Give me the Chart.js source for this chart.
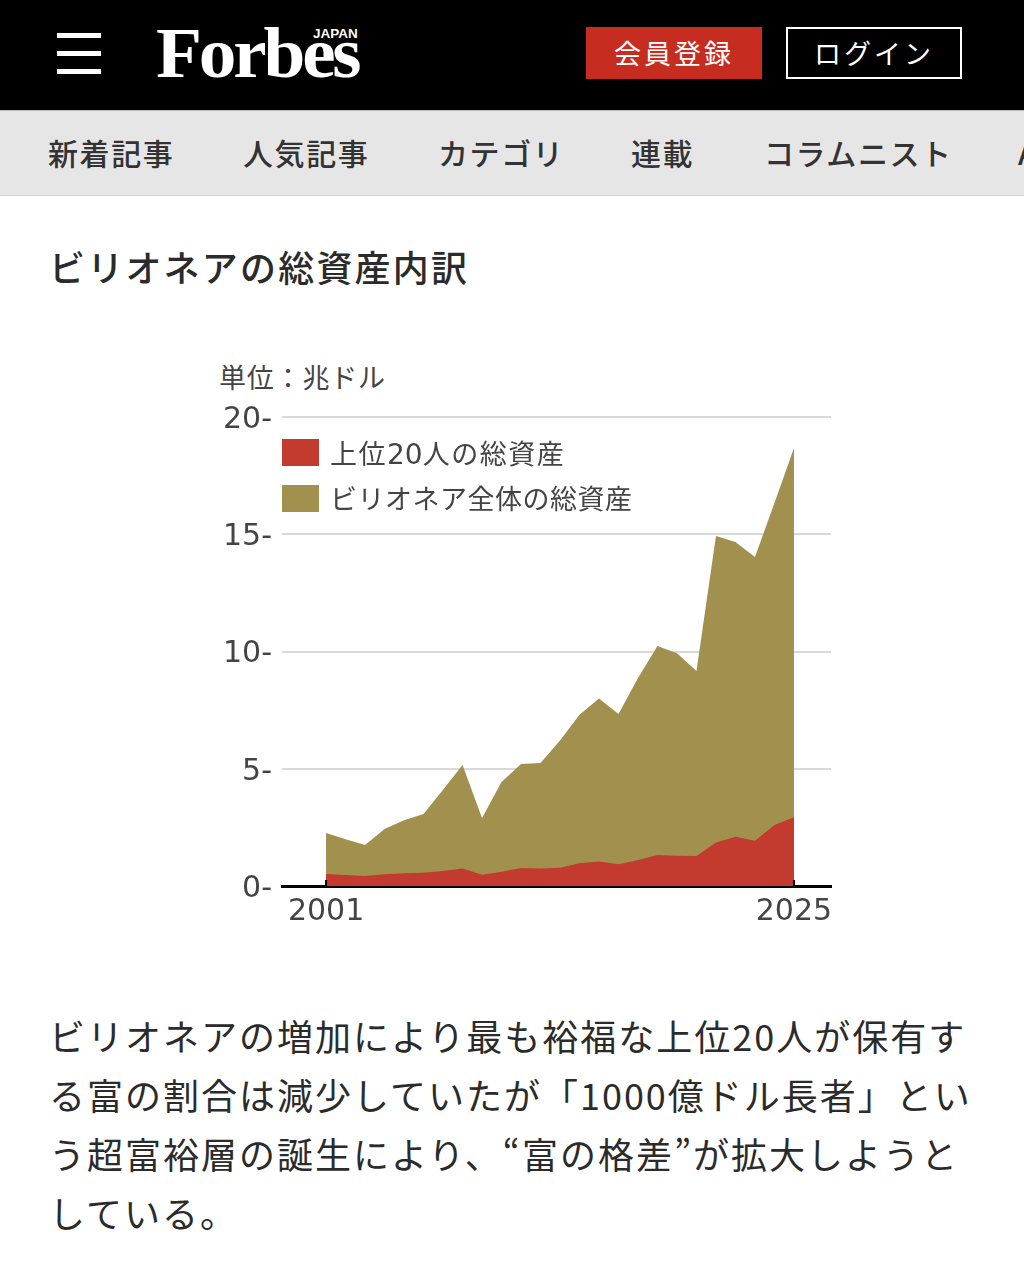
<!DOCTYPE html>
<html lang="ja">
<head>
<meta charset="utf-8">
<title>ビリオネアの総資産内訳</title>
<script src="https://cdn.jsdelivr.net/npm/chart.js@4/dist/chart.umd.min.js"></script>
<style>
  html, body { margin: 0; padding: 0; background: #fff; }
  body { width: 1024px; height: 1270px; overflow: hidden; position: relative; font-family: "Noto Sans CJK JP", sans-serif; color: #2b2b2b; }
  .abs { position: absolute; white-space: nowrap; }
  #topbar { position: absolute; left: 0; top: 0; width: 1024px; height: 110px; background: #000; }
  .bar { position: absolute; left: 57px; width: 44px; height: 5px; background: #fff; }
  #logo { left: 156px; top: 13px; color: #fff; font: bold 71px "Liberation Serif", serif; letter-spacing: -3px; transform: scaleX(1.06); transform-origin: left top; }
  #japan { left: 313px; top: 26px; color: #fff; font: bold 13.5px "Liberation Sans", sans-serif; }
  .btn { position: absolute; top: 27px; height: 52px; line-height: 52px; text-align: center; color: #fff; font-size: 27px; letter-spacing: 3px; box-sizing: border-box; }
  #signup { left: 586px; width: 176px; background: #c62d20; }
  #login { left: 786px; width: 176px; border: 2px solid #fff; line-height: 48px; }
  #nav { position: absolute; left: 0; top: 110px; width: 1024px; height: 86px; background: #e6e6e6; border-top: 1px solid #bbb; border-bottom: 1px solid #d6d6d6; box-sizing: border-box; overflow: hidden; }
  #nav span { position: absolute; top: 19px; font-size: 30px; line-height: 44px; font-weight: 500; letter-spacing: 1.6px; white-space: nowrap; color: #333; }
  #title { left: 49px; top: 239px; font-size: 36px; line-height: 54px; font-weight: 500; letter-spacing: 2.2px; }
  #unit { left: 219px; top: 358px; font-size: 27px; line-height: 38px; letter-spacing: .8px; color: #444; }
  #chartBox { position: absolute; left: 200px; top: 389px; width: 660px; height: 551px; }
  .swatch { position: absolute; left: 282px; width: 37px; height: 27px; }
  .legendText { left: 330px; font-size: 27px; line-height: 38px; letter-spacing: .5px; color: #444; }
  .legendText b { font: 28px "DejaVu Sans", sans-serif; letter-spacing: 0; }
  .line { left: 49px; font-size: 36px; line-height: 59px; letter-spacing: 2px; color: #2b2b2b; }
</style>
</head>
<body>
<div id="topbar">
  <div class="bar" style="top:33px"></div>
  <div class="bar" style="top:51px"></div>
  <div class="bar" style="top:69px"></div>
  <div class="abs" id="logo">Forbes</div>
  <div class="abs" id="japan">JAPAN</div>
  <div class="btn" id="signup">会員登録</div>
  <div class="btn" id="login">ログイン</div>
</div>
<div id="nav">
  <span style="left:48px">新着記事</span>
  <span style="left:243px">人気記事</span>
  <span style="left:438px">カテゴリ</span>
  <span style="left:631px">連載</span>
  <span style="left:764px">コラムニスト</span>
  <span style="left:1018px">A</span>
</div>
<div class="abs" id="title">ビリオネアの総資産内訳</div>
<div class="abs" id="unit">単位：兆ドル</div>
<div id="chartBox"><canvas id="wealthChart" width="660" height="551"></canvas></div>
<div class="swatch" style="top:439px;background:#c33a2e"></div>
<div class="abs legendText" style="top:434px;letter-spacing:1.5px">上位<b>20</b>人の総資産</div>
<div class="swatch" style="top:485px;background:#a2904f"></div>
<div class="abs legendText" style="top:479px">ビリオネア全体の総資産</div>
<div class="abs line" style="top:1006px">ビリオネアの増加により最も裕福な上位20人が保有す</div>
<div class="abs line" style="top:1065px">る富の割合は減少していたが「1000億ドル長者」とい</div>
<div class="abs line" style="top:1124px">う超富裕層の誕生により、“富の格差”が拡大しようと</div>
<div class="abs line" style="top:1183px">している。</div>

<script>
const years = [2001, 2002, 2003, 2004, 2005, 2006, 2007, 2008, 2009, 2010, 2011, 2012, 2013,
  2014, 2015, 2016, 2017, 2018, 2019, 2020, 2021, 2022, 2023, 2024, 2025];
const totalWealth = [2.26, 1.99, 1.75, 2.43, 2.8, 3.07, 4.1, 5.16, 2.9, 4.43, 5.2, 5.25, 6.2,
  7.3, 8.0, 7.33, 8.87, 10.23, 9.93, 9.17, 14.93, 14.67, 14.03, 16.33, 18.68];
const top20Wealth = [0.51, 0.47, 0.43, 0.5, 0.54, 0.56, 0.64, 0.75, 0.48, 0.61, 0.77, 0.75, 0.78,
  0.97, 1.04, 0.93, 1.11, 1.32, 1.29, 1.28, 1.85, 2.1, 1.93, 2.6, 2.93];
const yearTicks = [2001, 2025];
const legendLabels = ['上位20人の総資産', 'ビリオネア全体の総資産'];

const tickFont = { family: '"DejaVu Sans", sans-serif', size: 30 };

// little black nubs on the baseline at the first and last year
const baselineNubs = {
  id: 'baselineNubs',
  beforeDraw(chart) {
    // DejaVu sits a bit high on 'middle', push the y labels back onto their gridlines
    chart.scales.y.getLabelItems().forEach(item => { item.options.translation[1] += 3; });
  },
  afterDraw(chart) {
    const { ctx, scales } = chart;
    ctx.save();
    ctx.fillStyle = '#000';
    yearTicks.forEach(y => {
      ctx.fillRect(scales.x.getPixelForValue(y) - 1, scales.y.getPixelForValue(0) - 6, 2, 6);
    });
    ctx.restore();
  }
};

new Chart(document.getElementById('wealthChart'), {
  type: 'line',
  data: {
    datasets: [
      {
        label: legendLabels[0],
        data: years.map((y, i) => ({ x: y, y: top20Wealth[i] })),
        borderWidth: 0,
        backgroundColor: '#c33a2e',
        fill: 'origin',
        pointRadius: 0,
        order: 1
      },
      {
        label: legendLabels[1],
        data: years.map((y, i) => ({ x: y, y: totalWealth[i] })),
        borderWidth: 0,
        backgroundColor: '#a2904f',
        fill: 'origin',
        pointRadius: 0,
        order: 2
      }
    ]
  },
  options: {
    responsive: false,
    animation: false,
    layout: { padding: { top: 15, right: 29, bottom: 0, left: 0 } },
    plugins: { legend: { display: false }, tooltip: { enabled: false } },
    scales: {
      x: {
        type: 'linear',
        min: 1998.74,
        max: 2026.9,
        z: 1,
        afterBuildTicks: scale => { scale.ticks = yearTicks.map(v => ({ value: v })); },
        afterFit: scale => { scale.height = 54; },
        grid: { display: false, drawTicks: false },
        border: { display: true, color: '#000', width: 3 },
        ticks: {
          color: '#444',
          font: tickFont,
          padding: 8,
          maxRotation: 0,
          autoSkip: false,
          callback: v => String(v)
        }
      },
      y: {
        min: 0,
        max: 20,
        afterFit: scale => { scale.width = 82; },
        grid: {
          color: ctx => (ctx.tick.value === 0 ? 'rgba(0,0,0,0)' : '#d9d9d9'),
          lineWidth: 2,
          drawTicks: false
        },
        border: { display: false },
        ticks: {
          stepSize: 5,
          color: '#444',
          font: tickFont,
          padding: 10,
          callback: v => v + '-'
        }
      }
    }
  },
  plugins: [baselineNubs]
});
</script>
</body>
</html>
